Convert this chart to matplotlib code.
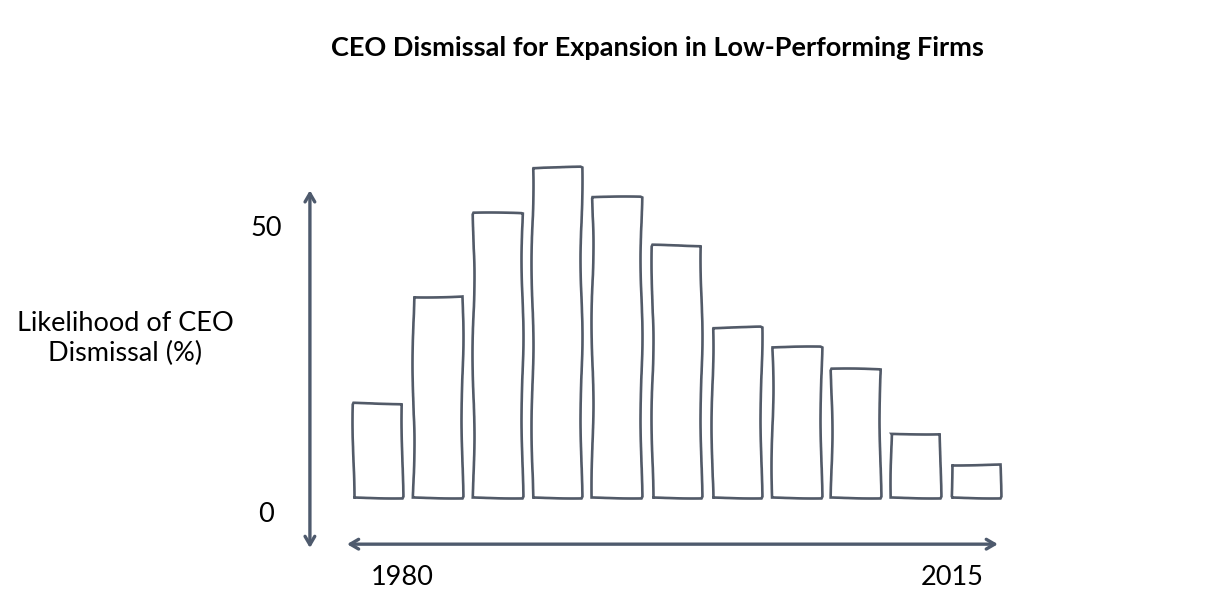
import matplotlib
matplotlib.use("Agg")
import matplotlib.pyplot as plt
import matplotlib.transforms as mtransforms
import numpy as np

# bar heights (likelihood of CEO dismissal, %)
periods = np.arange(11)
likelihood = [17.3, 37.1, 52.4, 60.9, 55.4, 46.5, 31.4, 27.7, 23.6, 11.8, 6.1]

y_ticks = [0, 50]
y_tick_labels = ["0", "50"]
x_tick_pos = [0.41, 9.61]
x_tick_labels = ["1980", "2015"]

title = "CEO Dismissal for Expansion in Low-Performing Firms"
ylabel = "Likelihood of CEO\nDismissal (%)"

line_col = "#525a68"
arrow_col = "#4e5a6d"
fs = 19.5

plt.rcParams['font.family'] = ['Lato', 'DejaVu Sans']

fig = plt.figure(figsize=(12.32, 6.08), dpi=100)
ax = fig.add_axes([0.2433, 0.0934, 0.5776, 0.6418])

bars = ax.bar(periods, likelihood, width=0.82, facecolor="white",
              edgecolor=line_col, linewidth=1.9)
for b in bars:
    b.set_sketch_params(scale=1.0, length=180, randomness=2)

ax.set_xlim(-1.3, 10.6)
ax.set_ylim(-10, 62)

for s in ax.spines.values():
    s.set_visible(False)

# hand drawn axes as double headed arrows
arrow = dict(arrowstyle="<->,head_length=0.6,head_width=0.35", color=arrow_col,
             lw=2.4, shrinkA=0, shrinkB=0)
ax.annotate("", xy=(-1.13, 56.6), xytext=(-1.13, -9.4), arrowprops=arrow)
ax.annotate("", xy=(-0.51, -8.7), xytext=(10.375, -8.7), arrowprops=arrow)

ax.set_yticks(y_ticks)
ax.set_yticklabels(y_tick_labels, fontsize=fs)
ax.set_xticks(x_tick_pos)
ax.set_xticklabels(x_tick_labels, fontsize=fs)
ax.tick_params(axis='y', length=0, pad=24)
ax.tick_params(axis='x', length=0, pad=10)
for t in ax.get_yticklabels():
    t.set_horizontalalignment('center')
# the zero label sits a little below the bar baseline
zero = ax.get_yticklabels()[0]
zero.set_transform(zero.get_transform() + mtransforms.ScaledTranslation(0, -15 / 100, fig.dpi_scale_trans))

ax.set_ylabel(ylabel, rotation=0, fontsize=fs, ha='center', va='center', linespacing=1.25)
ax.yaxis.set_label_coords(-0.2456, 0.546)

fig.text(0.534, 0.921, title, ha='center', va='center', fontsize=fs, fontweight='bold')

fig.savefig("out.png", dpi=100, facecolor="white")
